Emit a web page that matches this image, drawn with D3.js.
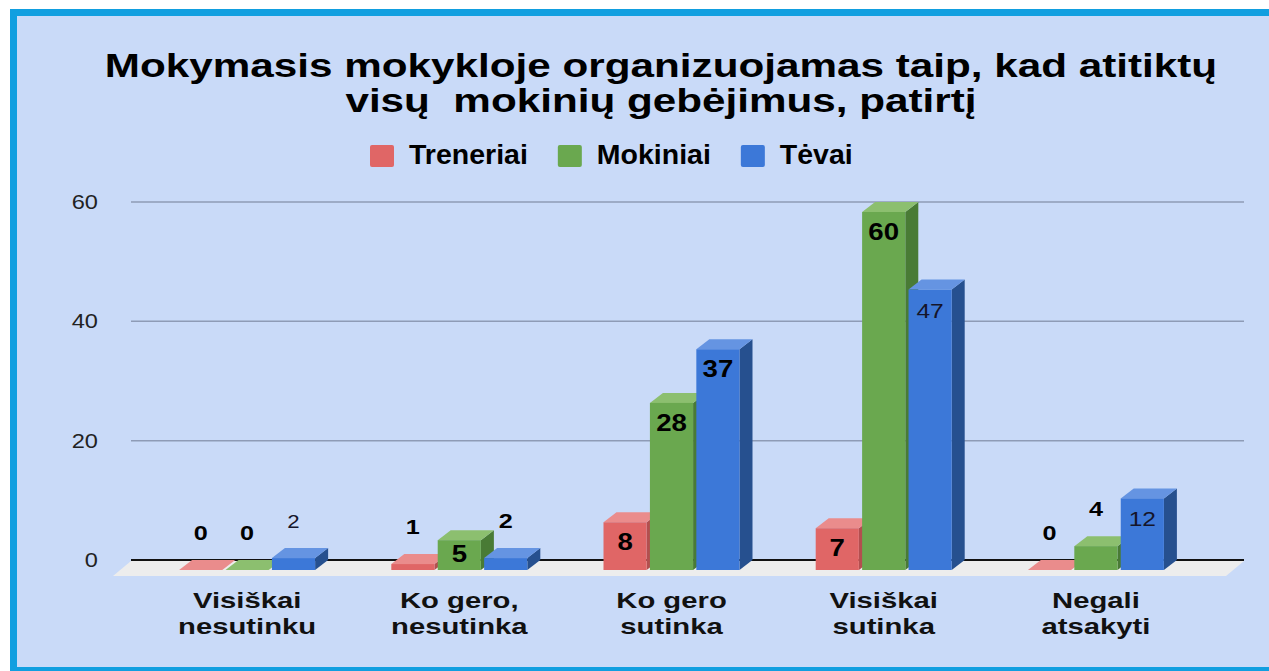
<!DOCTYPE html>
<html>
<head>
<meta charset="utf-8">
<script src="https://cdn.jsdelivr.net/npm/d3@7"></script>
<style>
  html, body { margin: 0; padding: 0; background: #fff; }
  svg { display: block; font-family: "Liberation Sans", Arial, sans-serif; }
</style>
</head>
<body>
<svg id="chart" width="1269" height="671"></svg>
<script>
// data
const titleLines = ["Mokymasis mokykloje organizuojamas taip, kad atitiktų", "visų  mokinių gebėjimus, patirtį"];
const categories = [["Visiškai", "nesutinku"], ["Ko gero,", "nesutinka"], ["Ko gero", "sutinka"], ["Visiškai", "sutinka"], ["Negali", "atsakyti"]];
const seriesNames = ["Treneriai", "Mokiniai", "Tėvai"];
const treneriai = [0, 1, 8, 7, 0];
const mokiniai = [0, 5, 28, 60, 4];
const tevai = [2, 2, 37, 47, 12];
const yTicks = [0, 20, 40, 60];

// style bits
const colors = {
    "Treneriai": { front: "#e06666", top: "#ea8c8c", side: "#b34f4f" },
    "Mokiniai": { front: "#6aa84f", top: "#8cbf6f", side: "#497b35" },
    "Tėvai": { front: "#3c78d8", top: "#6594e2", side: "#26508f" }
};
// labels drawn in regular weight (series, category index)
const plainLabels = ["Tėvai:0", "Tėvai:3", "Tėvai:4"];
const DX = 13, DY = 10;          // bar depth

const svg = d3.select("#chart");
const W = 1269, H = 671;

// frame
svg.append("rect").attr("x", 10).attr("y", 9).attr("width", W - 10).attr("height", H - 9).attr("fill", "#119fe0");
svg.append("rect").attr("x", 17).attr("y", 16).attr("width", W - 17).attr("height", 651).attr("fill", "#c9daf8");

// the original picture is a bit stretched sideways
function stretched(sel, x, y, sx) {
    return sel.attr("transform", `translate(${x},${y}) scale(${sx},1)`);
}

// title
titleLines.forEach((t, i) => {
    stretched(svg.append("text"), 661, 77 + i * 35, 1.28)
        .attr("text-anchor", "middle")
        .attr("font-size", 33)
        .attr("font-weight", "bold")
        .attr("fill", "#000")
        .style("white-space", "pre")
        .text(t);
});

// legend
let lx = 370;
seriesNames.forEach(name => {
    svg.append("rect").attr("x", lx).attr("y", 145).attr("width", 24).attr("height", 22).attr("rx", 2)
        .attr("fill", colors[name].front);
    const t = svg.append("text").attr("x", lx + 39).attr("y", 164)
        .attr("font-size", 28.5).attr("font-weight", "bold").attr("fill", "#000").text(name);
    lx += 39 + t.node().getComputedTextLength() + 30;
});

// scales
const x0 = d3.scaleBand().domain(d3.range(categories.length)).range([141, 1202]).padding(0);
const x1 = d3.scaleBand().domain(seriesNames).range([-68, 68]).paddingInner(0.07);
const y = d3.scaleLinear().domain([0, 60]).range([560, 202]);
const gridX0 = 131, gridX1 = 1244;

// grid + y labels
const yAxis = svg.append("g");
yAxis.selectAll("line.grid").data(yTicks.filter(d => d > 0)).join("line")
    .attr("class", "grid")
    .attr("x1", gridX0).attr("x2", gridX1)
    .attr("y1", d => y(d)).attr("y2", d => y(d))
    .attr("stroke", "#8e9bb6").attr("stroke-width", 1.5);
yAxis.selectAll("text").data(yTicks).join("text")
    .each(function(d) { stretched(d3.select(this), 98, y(d) + 7, 1.18); })
    .attr("text-anchor", "end")
    .attr("font-size", 20)
    .attr("fill", "#222")
    .text(d => d);

// floor
svg.append("polygon")
    .attr("points", [[gridX0, y(0) + 1], [gridX1, y(0) + 1], [gridX1 - 18, y(0) + 16], [gridX0 - 18, y(0) + 16]].join(" "))
    .attr("fill", "#ededed");
svg.append("line")
    .attr("x1", gridX0).attr("x2", gridX1).attr("y1", y(0)).attr("y2", y(0))
    .attr("stroke", "#111").attr("stroke-width", 2);

// bars
const seriesValues = { "Treneriai": treneriai, "Mokiniai": mokiniai, "Tėvai": tevai };
const bars = [];
categories.forEach((c, i) => {
    seriesNames.forEach(s => bars.push({ cat: i, series: s, value: seriesValues[s][i] }));
});

const barG = svg.append("g");
bars.forEach(d => {
    const fx = x0(d.cat) + x0.bandwidth() / 2 + x1(d.series);
    const bw = x1.bandwidth();
    const ft = y(d.value) + DY;     // front top
    const fb = y(0) + DY;           // front bottom
    const g = barG.append("g");
    // side
    g.append("polygon")
        .attr("points", [[fx + bw, ft], [fx + bw + DX, ft - DY], [fx + bw + DX, fb - DY], [fx + bw, fb]].join(" "))
        .attr("fill", colors[d.series].side);
    // top
    g.append("polygon")
        .attr("points", [[fx, ft], [fx + DX, ft - DY], [fx + bw + DX, ft - DY], [fx + bw, ft]].join(" "))
        .attr("fill", colors[d.series].top);
    // front
    if (d.value > 0) {
        g.append("rect").attr("x", fx).attr("y", ft).attr("width", bw).attr("height", fb - ft)
            .attr("fill", colors[d.series].front);
    }
    d.cx = fx + bw / 2;
    d.ft = ft; d.fb = fb;
});

// value labels
bars.forEach(d => {
    const inside = d.value >= 5;
    const plain = plainLabels.includes(`${d.series}:${d.cat}`);
    const ty = inside ? Math.min(d.ft + 28, d.fb - 8) : y(d.value) - 20;
    let fs = inside ? 23 : 21;
    if (plain) fs -= 2.5;
    stretched(svg.append("text"), d.cx, ty, 1.2)
        .attr("text-anchor", "middle")
        .attr("font-size", fs)
        .attr("font-weight", plain ? "normal" : "bold")
        .attr("fill", plain ? "#15152a" : "#000")
        .text(d.value);
});

// category labels
categories.forEach((lines, i) => {
    lines.forEach((t, j) => {
        stretched(svg.append("text"), x0(i) + x0.bandwidth() / 2, 608 + j * 25.5, 1.33)
            .attr("text-anchor", "middle")
            .attr("font-size", 22)
            .attr("font-weight", "bold")
            .attr("fill", "#111")
            .text(t);
    });
});
</script>
</body>
</html>
